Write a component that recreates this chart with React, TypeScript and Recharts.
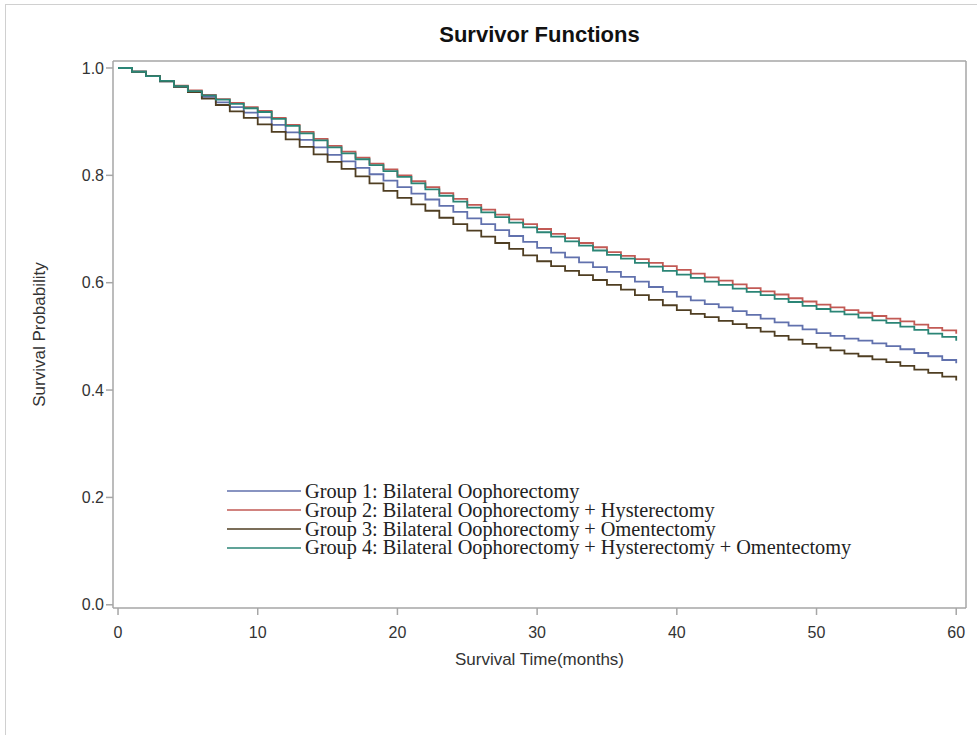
import { LineChart, Line, XAxis, YAxis, Legend, ReferenceLine } from "recharts";

// survival time in months, one step per month
const months = [
  0, 1, 2, 3, 4, 5, 6, 7, 8, 9, 10, 11, 12, 13, 14, 15, 16, 17, 18, 19, 20,
  21, 22, 23, 24, 25, 26, 27, 28, 29, 30, 31, 32, 33, 34, 35, 36, 37, 38, 39, 40,
  41, 42, 43, 44, 45, 46, 47, 48, 49, 50, 51, 52, 53, 54, 55, 56, 57, 58, 59, 60,
];

const group1 = [
  1.0, 0.993, 0.985, 0.975, 0.965, 0.956, 0.946, 0.936, 0.927, 0.917, 0.908,
  0.894, 0.88, 0.866, 0.852, 0.838, 0.826, 0.814, 0.802, 0.79, 0.778,
  0.766, 0.755, 0.743, 0.732, 0.72, 0.709, 0.698, 0.687, 0.676, 0.665,
  0.656, 0.647, 0.638, 0.629, 0.62, 0.611, 0.602, 0.592, 0.583, 0.574,
  0.567, 0.56, 0.554, 0.547, 0.54, 0.533, 0.526, 0.52, 0.513, 0.506,
  0.501, 0.496, 0.492, 0.487, 0.482, 0.476, 0.469, 0.463, 0.456, 0.45,
];

const group2 = [
  1.0, 0.993, 0.985, 0.976, 0.967, 0.958, 0.95, 0.942, 0.935, 0.927, 0.92,
  0.907, 0.894, 0.881, 0.868, 0.855, 0.844, 0.833, 0.822, 0.811, 0.8,
  0.789, 0.778, 0.767, 0.756, 0.745, 0.736, 0.727, 0.718, 0.709, 0.7,
  0.691, 0.683, 0.674, 0.666, 0.657, 0.65, 0.644, 0.637, 0.631, 0.624,
  0.617, 0.61, 0.604, 0.597, 0.59, 0.584, 0.578, 0.571, 0.565, 0.559,
  0.554, 0.549, 0.544, 0.538, 0.533, 0.528, 0.522, 0.516, 0.511, 0.505,
];

const group3 = [
  1.0, 0.993, 0.985, 0.975, 0.965, 0.955, 0.943, 0.931, 0.919, 0.907, 0.895,
  0.881, 0.867, 0.853, 0.839, 0.825, 0.812, 0.798, 0.785, 0.771, 0.758,
  0.746, 0.734, 0.721, 0.709, 0.697, 0.686, 0.674, 0.663, 0.651, 0.64,
  0.631, 0.622, 0.614, 0.605, 0.596, 0.587, 0.577, 0.568, 0.558, 0.549,
  0.542, 0.536, 0.529, 0.523, 0.516, 0.509, 0.501, 0.494, 0.486, 0.479,
  0.474, 0.468, 0.463, 0.457, 0.452, 0.445, 0.438, 0.432, 0.425, 0.418,
];

const group4 = [
  1.0, 0.993, 0.985, 0.976, 0.966, 0.957, 0.949, 0.941, 0.933, 0.925, 0.918,
  0.905, 0.892, 0.878, 0.865, 0.852, 0.841, 0.83, 0.819, 0.808, 0.797,
  0.785, 0.774, 0.762, 0.751, 0.74, 0.731, 0.722, 0.712, 0.703, 0.694,
  0.686, 0.677, 0.669, 0.66, 0.652, 0.645, 0.637, 0.63, 0.622, 0.615,
  0.609, 0.602, 0.596, 0.589, 0.583, 0.577, 0.57, 0.564, 0.557, 0.551,
  0.546, 0.541, 0.535, 0.53, 0.525, 0.518, 0.512, 0.505, 0.499, 0.492,
];

const xTicks = [0, 10, 20, 30, 40, 50, 60];
const yTicks = [0, 0.2, 0.4, 0.6, 0.8, 1.0];

const SERIES = [
  { key: "g1", name: "Group 1: Bilateral Oophorectomy", color: "#6171ad", values: group1 },
  { key: "g2", name: "Group 2: Bilateral Oophorectomy + Hysterectomy", color: "#c25a55", values: group2 },
  { key: "g3", name: "Group 3: Bilateral Oophorectomy + Omentectomy", color: "#4f3e22", values: group3 },
  { key: "g4", name: "Group 4: Bilateral Oophorectomy + Hysterectomy + Omentectomy", color: "#2b8576", values: group4 },
];

const X_MIN = -0.36;
const X_MAX = 60.7;
const Y_MIN = -0.006;
const Y_MAX = 1.013;

const AXIS_GRAY = "#a6a6a6";
const SANS = "'Liberation Sans', Arial, sans-serif";

function LegendBox({ payload }: { payload?: any[] }) {
  return (
    <div style={{ fontFamily: "'Liberation Serif', 'Times New Roman', serif", fontSize: 20.3, color: "#222" }}>
      {(payload || []).map((p) => (
        <div
          key={p.value}
          style={{ display: "flex", alignItems: "center", height: 18.8, lineHeight: "18.8px", overflow: "visible" }}
        >
          <svg width={74} height={4} style={{ marginRight: 4 }}>
            <line x1={0} y1={2} x2={74} y2={2} stroke={p.color} strokeWidth={1.6} />
          </svg>
          <span style={{ whiteSpace: "nowrap" }}>{p.value}</span>
        </div>
      ))}
    </div>
  );
}

export default function App() {
  const rows = months.map((t, i) => {
    const row: Record<string, number> = { t };
    for (const s of SERIES) row[s.key] = s.values[i];
    return row;
  });

  return (
    <div style={{ position: "absolute", left: 0, top: 0, width: 977, height: 735, background: "#fff" }}>
      {/* outer image frame */}
      <div
        style={{
          position: "absolute",
          left: 5,
          top: 4,
          width: 972,
          height: 731,
          borderLeft: "1px solid #d0d0d0",
          borderTop: "1px solid #d0d0d0",
        }}
      />
      <div
        style={{
          position: "absolute",
          left: 0,
          width: 977,
          top: 22,
          textAlign: "center",
          paddingLeft: 102,
          boxSizing: "border-box",
          fontFamily: SANS,
          fontWeight: "bold",
          fontSize: 22,
          color: "#111",
        }}
      >
        Survivor Functions
      </div>
      <LineChart
        width={977}
        height={735}
        data={rows}
        margin={{ top: 61, right: 11, bottom: 97, left: 53 }}
        style={{ position: "absolute", left: 0, top: 0 }}
      >
        <XAxis
          dataKey="t"
          type="number"
          domain={[X_MIN, X_MAX]}
          ticks={xTicks}
          allowDataOverflow
          height={30}
          stroke={AXIS_GRAY}
          strokeWidth={1.5}
          tickSize={7}
          tickMargin={12}
          tick={{ fill: "#333", fontSize: 16, fontFamily: SANS }}
          label={{
            value: "Survival Time(months)",
            position: "insideBottom",
            offset: -27,
            fill: "#333",
            fontSize: 17,
            fontFamily: SANS,
          }}
        />
        <YAxis
          type="number"
          domain={[Y_MIN, Y_MAX]}
          ticks={yTicks}
          allowDataOverflow
          width={60}
          stroke={AXIS_GRAY}
          strokeWidth={1.5}
          tickSize={7}
          tickFormatter={(v: number) => v.toFixed(1)}
          tick={{ fill: "#333", fontSize: 16, fontFamily: SANS }}
          label={{
            value: "Survival Probability",
            angle: -90,
            position: "insideLeft",
            offset: -14,
            style: { textAnchor: "middle" },
            fill: "#333",
            fontSize: 17,
            fontFamily: SANS,
          }}
        />
        <ReferenceLine y={Y_MAX} stroke={AXIS_GRAY} strokeWidth={1.5} />
        <ReferenceLine x={X_MAX} stroke={AXIS_GRAY} strokeWidth={1.5} />
        <Legend
          layout="vertical"
          align="center"
          verticalAlign="middle"
          content={<LegendBox />}
          wrapperStyle={{ left: 227, top: 482, width: 700 }}
        />
        {SERIES.map((s) => (
          <Line
            key={s.key}
            type="stepAfter"
            dataKey={s.key}
            name={s.name}
            stroke={s.color}
            strokeWidth={1.8}
            dot={false}
            activeDot={false}
            isAnimationActive={false}
          />
        ))}
      </LineChart>
    </div>
  );
}
